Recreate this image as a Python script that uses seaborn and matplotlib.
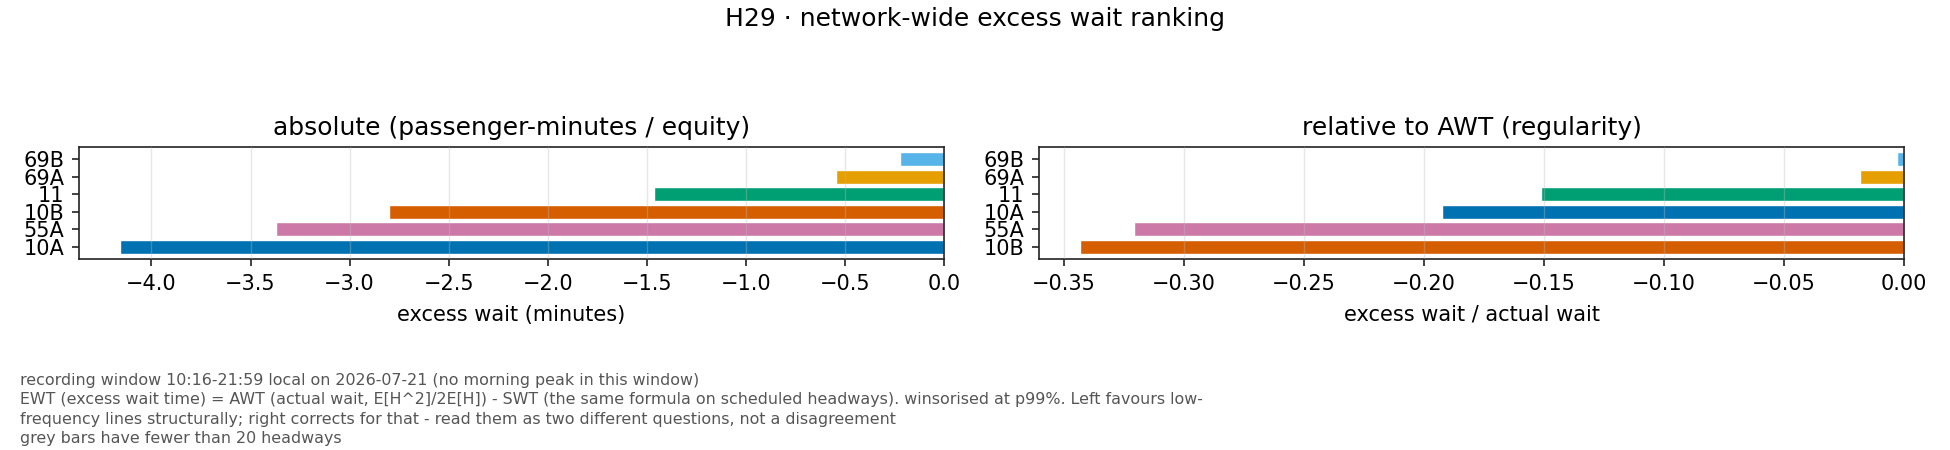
import seaborn as sns
import pandas as pd
import matplotlib
matplotlib.use("Agg")
import matplotlib.pyplot as plt

# values, listed top -> bottom as drawn
abs_routes = ["69B", "69A", "11", "10B", "55A", "10A"]
abs_values = [-0.221, -0.543, -1.464, -2.80, -3.37, -4.158]

rel_routes = ["69B", "69A", "11", "10A", "55A", "10B"]
rel_values = [-0.0028, -0.0183, -0.1513, -0.1926, -0.3206, -0.3432]

route_colors = {
    "10A": "#0072B2",
    "10B": "#D55E00",
    "55A": "#CC79A7",
    "11": "#009E73",
    "69A": "#E69F00",
    "69B": "#56B4E9",
}

notes = (
    "recording window 10:16-21:59 local on 2026-07-21 (no morning peak in this window)\n"
    "EWT (excess wait time) = AWT (actual wait, E[H^2]/2E[H]) - SWT (the same formula on scheduled headways). "
    "winsorised at p99%. Left favours low-\n"
    "frequency lines structurally; right corrects for that - read them as two different questions, not a disagreement\n"
    "grey bars have fewer than 20 headways"
)

sns.set_theme(style="ticks")
plt.rcParams.update({
    "font.family": ["DejaVu Sans"],
    "axes.edgecolor": "#222222",
    "axes.linewidth": 1.2,
    "xtick.major.size": 5.25,
    "ytick.major.size": 5.25,
    "xtick.major.width": 1.2,
    "ytick.major.width": 1.2,
    "xtick.major.pad": 5.25,
    "ytick.major.pad": 5.25,
    "xtick.color": "#222222",
    "ytick.color": "#222222",
    "xtick.labelcolor": "black",
    "ytick.labelcolor": "black",
    "xtick.labelsize": 15,
    "ytick.labelsize": 15,
    "axes.labelcolor": "black",
    "axes.labelpad": 8,
    "text.color": "black",
})

fig = plt.figure(figsize=(19.5, 4.5), dpi=100)
ax1 = fig.add_axes([79 / 1950, 1 - 259 / 450, 865 / 1950, 112 / 450])
ax2 = fig.add_axes([1039 / 1950, 1 - 259 / 450, 865 / 1950, 112 / 450])


def draw(ax, routes, values, title, xlabel):
    df = pd.DataFrame({"route": routes, "value": values})
    sns.barplot(data=df, y="route", x="value", hue="route", order=routes,
                palette=route_colors, legend=False, width=0.8, ax=ax,
                saturation=1)
    # matplotlib-style category margins instead of seaborn's fixed limits
    n = len(routes)
    pad = 0.05 * (n - 1 + 0.8)
    ax.set_ylim(n - 1 + 0.4 + pad, -0.4 - pad)
    ax.set_axisbelow(False)
    ax.grid(axis="x", color="#bbbbbb", alpha=0.35, linewidth=1.0)
    ax.set_title(title, fontsize=18, pad=9)
    ax.set_xlabel(xlabel, fontsize=15)
    ax.set_ylabel("")
    for s in ax.spines.values():
        s.set_visible(True)


draw(ax1, abs_routes, abs_values,
     "absolute (passenger-minutes / equity)", "excess wait (minutes)")
draw(ax2, rel_routes, rel_values,
     "relative to AWT (regularity)", "excess wait / actual wait")

fig.suptitle("H29 · network-wide excess wait ranking", fontsize=18, y=1 - 19 / 450, va="center")
fig.text(20 / 1950, 1 - 373 / 450, notes, fontsize=11.4, color="#555555",
         va="top", ha="left", linespacing=1.36)

fig.savefig("out.png", dpi=100)
